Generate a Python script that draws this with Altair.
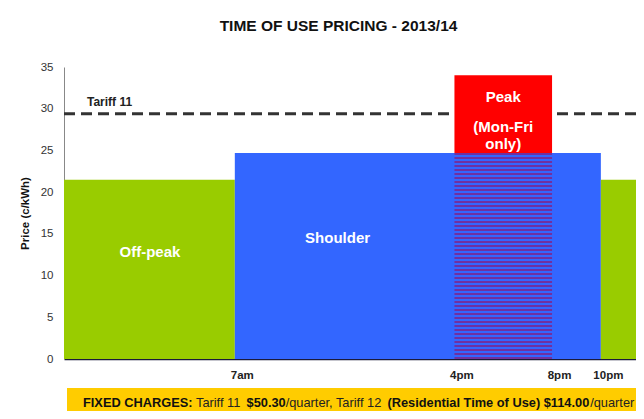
import math
import altair as alt
import pandas as pd

FONT = "Liberation Sans"

# ---- data ----
period_names = ["Off-peak", "Shoulder", "Off-peak"]
period_start = [0, 7, 22]
period_end = [7, 22, 24]
period_price = [21.5, 24.7, 21.5]
period_color = ["#99cc00", "#3366ff", "#99cc00"]

peak_start = [16]
peak_end = [20]
peak_price = [34.0]
shoulder_price = 24.7

tariff11_price = 29.4

tick_hours = [7, 16, 20, 22]
tick_labels = ["7am", "4pm", "8pm", "10pm"]

label_text = ["Off-peak", "Shoulder", "Peak", "(Mon-Fri", "only)"]
label_hour = [3.52, 11.21, 18.0, 18.0, 18.0]
label_price = [12.77, 14.5, 31.4, 27.75, 25.75]

tariff_label = ["Tariff 11"]
tariff_label_hour = [0.94]
tariff_label_price = [30.8]

banner_text = ["FIXED CHARGES:", "Tariff 11", "$50.30", "/quarter, Tariff 12",
               "(Residential Time of Use) $114.00", "/quarter"]
banner_bold = [True, False, True, False, True, False]

# ---- layout constants ----
PLOT_W, PLOT_H = 572, 292
banner_px = [19, 132, 182.6, 221.7, 323.5, 526.2]

x_scale = alt.Scale(domain=[0, 23.44], nice=False, zero=False)
y_scale = alt.Scale(domain=[0, 35], nice=False)

label_expr = "''"
for h, l in reversed(list(zip(tick_hours, tick_labels))):
    label_expr = f"datum.value == {h} ? '{l}' : ({label_expr})"

periods = pd.DataFrame({
    "name": period_names, "start": period_start, "end": period_end,
    "price": period_price, "color": period_color, "lo": [0] * 3,
})

bars = alt.Chart(periods).mark_rect(clip=True).encode(
    x=alt.X("start:Q", scale=x_scale,
            axis=alt.Axis(values=tick_hours, labelExpr=label_expr, title=None,
                          ticks=False, grid=False, domainColor="#1a1a3a",
                          domainWidth=1.5, labelFont=FONT, labelFontSize=11.5,
                          labelFontWeight="bold", labelColor="#222222",
                          labelPadding=10, labelOffset=7, labelFlush=False)),
    x2="end:Q",
    y=alt.Y("lo:Q", scale=y_scale,
            axis=alt.Axis(values=[0, 5, 10, 15, 20, 25, 30, 35],
                          title="Price (c/kWh)", ticks=False, grid=False,
                          domainColor="#888888", labelFont=FONT,
                          labelFontSize=11.5, labelColor="#333333",
                          labelPadding=11, titleFont=FONT,
                          titleFontSize=11.5, titleFontWeight="bold",
                          titleColor="#111111", titlePadding=10)),
    y2="price:Q",
    color=alt.Color("color:N", scale=None),
)

rule = alt.Chart(pd.DataFrame({"p": [tariff11_price]})).mark_rule(
    strokeDash=[11, 6], strokeWidth=3, color="#333333"
).encode(y=alt.Y("p:Q", scale=y_scale))

peak = pd.DataFrame({"start": peak_start, "end": peak_end,
                     "lo": [shoulder_price], "hi": peak_price})
peak_red = alt.Chart(peak).mark_rect(color="#ff0000").encode(
    x=alt.X("start:Q", scale=x_scale), x2="end:Q",
    y=alt.Y("lo:Q", scale=y_scale), y2="hi:Q",
)

# horizontal stripes (purple over blue) as a hard-stop gradient, 4px period
purple, blue = "#7030a0", "#3366ff"
stripe_h = shoulder_price * PLOT_H / 35.0
period_px, purple_px = 4.0, 2.0
n_stripes = math.ceil(stripe_h / period_px)
stops = []
for i in range(n_stripes):
    a = min(1.0, i * period_px / stripe_h)
    b = min(1.0, (i * period_px + purple_px) / stripe_h)
    c = min(1.0, (i + 1) * period_px / stripe_h)
    stops += [alt.GradientStop(offset=a, color=purple),
              alt.GradientStop(offset=b, color=purple),
              alt.GradientStop(offset=b, color=blue),
              alt.GradientStop(offset=c, color=blue)]
stripe_fill = alt.LinearGradient(gradient="linear", stops=stops,
                                 x1=0, x2=0, y1=0, y2=1)
stripe_df = pd.DataFrame({"start": peak_start, "end": peak_end,
                          "lo": [0], "hi": [shoulder_price]})
stripes = alt.Chart(stripe_df).mark_rect(fill=stripe_fill).encode(
    x=alt.X("start:Q", scale=x_scale), x2="end:Q",
    y=alt.Y("lo:Q", scale=y_scale), y2="hi:Q",
)

labels = alt.Chart(pd.DataFrame({"t": label_text, "h": label_hour,
                                 "p": label_price})).mark_text(
    color="white", fontWeight="bold", fontSize=15, font=FONT,
    baseline="middle", align="center"
).encode(x=alt.X("h:Q", scale=x_scale), y=alt.Y("p:Q", scale=y_scale),
         text="t:N")

tlabel = alt.Chart(pd.DataFrame({"t": tariff_label, "h": tariff_label_hour,
                                 "p": tariff_label_price})).mark_text(
    color="#222222", fontWeight="bold", fontSize=12, font=FONT,
    baseline="middle", align="left"
).encode(x=alt.X("h:Q", scale=x_scale), y=alt.Y("p:Q", scale=y_scale),
         text="t:N")

banner = alt.Chart(pd.DataFrame({"a": [0]})).mark_rect(color="#ffcc00").encode(
    x=alt.value(3), x2=alt.value(PLOT_W), y=alt.value(321), y2=alt.value(344)
)

bdf = pd.DataFrame({"t": banner_text, "b": banner_bold, "px": banner_px})
banner_bold_txt = alt.Chart(bdf[bdf.b]).mark_text(
    fontWeight="bold", fontSize=12.8, font=FONT, color="#111111",
    align="left", baseline="middle"
).encode(x=alt.X("px:Q", scale=None), y=alt.value(336), text="t:N")
banner_reg_txt = alt.Chart(bdf[~bdf.b]).mark_text(
    fontWeight="normal", fontSize=12.8, font=FONT, color="#222222",
    align="left", baseline="middle"
).encode(x=alt.X("px:Q", scale=None), y=alt.value(336), text="t:N")

chart = alt.layer(
    bars, rule, peak_red, stripes, labels, tlabel,
    banner, banner_bold_txt, banner_reg_txt
).properties(
    width=PLOT_W, height=PLOT_H,
    title=alt.TitleParams("TIME OF USE PRICING - 2013/14", font=FONT,
                          fontSize=15.5, fontWeight="bold", color="#111111",
                          anchor="middle", dx=-11.5, offset=27),
    autosize=alt.AutoSizeParams(type="none"),
    padding={"left": 56, "top": 59, "right": 0, "bottom": 52},
    background="white",
).configure_view(stroke=None)

chart.save("out.html", embed_options={"renderer": "svg", "actions": False})
